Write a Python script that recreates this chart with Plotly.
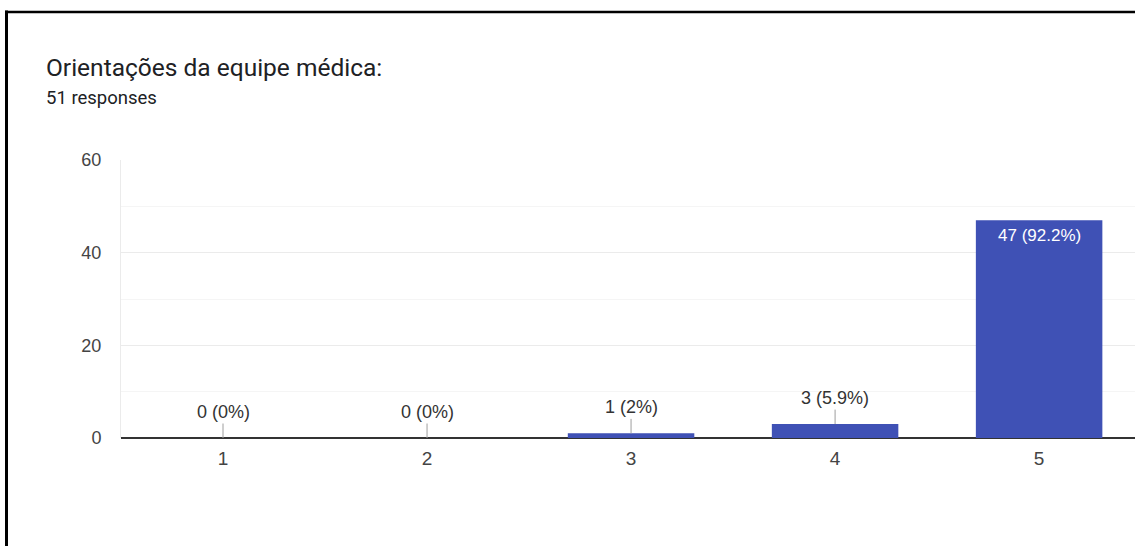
import plotly.graph_objects as go

categories = ["1", "2", "3", "4", "5"]
counts = [0, 0, 1, 3, 47]
title_text = "Orientações da equipe médica:"
subtitle_text = "51 responses"
y_ticks = [0, 20, 40, 60]

total = sum(counts)

def fmt(c):
    p = round(100 * c / total, 1)
    return f"{c} ({p:g}%)"

labels = [fmt(c) for c in counts]
BAR = "#3f51b5"
FONT = "Arial, Liberation Sans, sans-serif"

fig = go.Figure()
fig.add_trace(go.Bar(
    x=list(range(len(categories))), y=counts, marker=dict(color=BAR, line=dict(width=0)),
    width=0.62, hoverinfo="skip",
))

for i, (c, lab) in enumerate(zip(counts, labels)):
    if c <= 10:
        fig.add_annotation(
            x=i, y=c, xref="x", yref="y", text=lab, showarrow=True,
            arrowhead=0, arrowwidth=1, arrowcolor="#9e9e9e", ax=0, ay=-26,
            font=dict(size=18, color="#333333", family=FONT),
        )
    else:
        fig.add_annotation(
            x=i, y=c, xref="x", yref="y", text=lab, showarrow=False,
            yanchor="top", yshift=-4,
            font=dict(size=17, color="white", family=FONT),
        )

fig.add_annotation(xref="paper", yref="paper", x=-0.0759, y=1.333, xanchor="left", yanchor="middle",
                   text=title_text, showarrow=False,
                   font=dict(family="Roboto", size=24.5, color="#202124"))
fig.add_annotation(xref="paper", yref="paper", x=-0.0759, y=1.222, xanchor="left", yanchor="middle",
                   text=subtitle_text, showarrow=False,
                   font=dict(family="Roboto", size=18.5, color="#202124"))

# frame lines (screenshot border)
fig.add_shape(type="line", xref="paper", yref="paper", xsizemode="pixel", ysizemode="pixel",
              xanchor=0, yanchor=1, x0=-114.5, x1=-114.5, y0=149.5, y1=-400,
              line=dict(color="black", width=3))
fig.add_shape(type="line", xref="paper", yref="paper", xsizemode="pixel", ysizemode="pixel",
              xanchor=0, yanchor=1, x0=-116, x1=1100, y0=148, y1=148,
              line=dict(color="black", width=2.5))

fig.update_layout(
    width=1135, height=546,
    margin=dict(l=121, r=0, t=160, b=108),
    paper_bgcolor="white", plot_bgcolor="white",
    showlegend=False,
    xaxis=dict(range=[-0.5, 4.47], tickvals=list(range(len(categories))), ticktext=categories,
               showgrid=False, zeroline=False,
               showline=False, ticks="", tickfont=dict(family=FONT, size=19, color="#444444"),
               ticklabelstandoff=7),
    yaxis=dict(range=[0, 60], tickvals=y_ticks, showgrid=True, gridcolor="#ebebeb", gridwidth=1,
               minor=dict(dtick=10, showgrid=True, gridcolor="#f5f5f5", gridwidth=1),
               zeroline=True, zerolinecolor="#333333", zerolinewidth=1.5,
               showline=True, linecolor="#ebebeb", linewidth=1,
               tickfont=dict(family=FONT, size=18, color="#444444"),
               ticklabelstandoff=15),
)

fig.write_html("out.html", config={"displayModeBar": False},
               post_script="document.body.style.margin='0';document.body.style.overflow='hidden';")
